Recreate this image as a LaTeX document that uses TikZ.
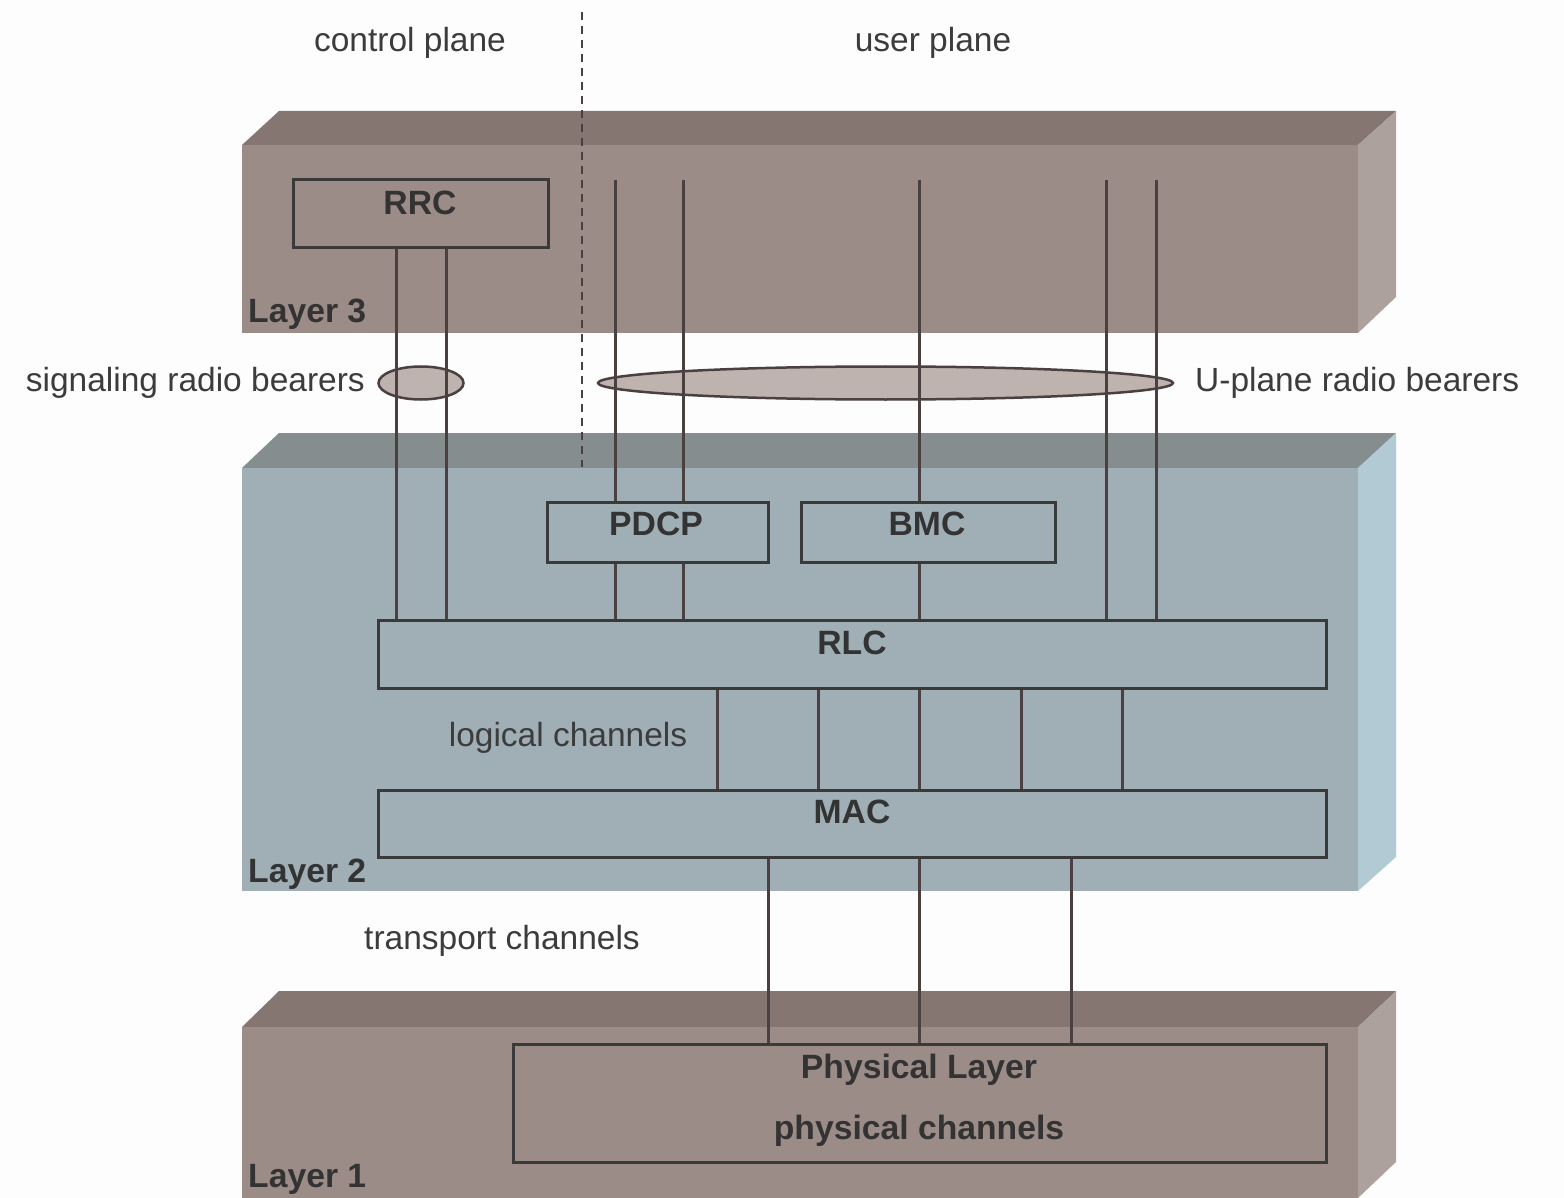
\documentclass[tikz,border=0pt]{standalone}
\usepackage{fontspec}
\setmainfont{Liberation Sans}
\usetikzlibrary{shapes.geometric}
\definecolor{bgc}{HTML}{FDFDFD}
\definecolor{brtop}{HTML}{857671}
\definecolor{brfront}{HTML}{9C8C88}
\definecolor{brside}{HTML}{ADA19D}
\definecolor{bltop}{HTML}{868D8F}
\definecolor{blfront}{HTML}{A0AFB5}
\definecolor{blside}{HTML}{B2CAD3}
\definecolor{ellc}{HTML}{BFB3B0}
\definecolor{linec}{HTML}{4A4040}
\definecolor{boxc}{HTML}{3A3A3A}
\definecolor{txtc}{HTML}{3C3C3C}
\definecolor{boldc}{HTML}{333333}
\tikzset{
  box/.style={draw=boxc, line width=3pt, inner sep=0pt, minimum width=#1},
  conn/.style={draw=linec, line width=3pt},
  lbl/.style={font=\fontsize{33.5}{40}\selectfont, text=txtc, inner sep=0pt},
  blbl/.style={font=\fontsize{33.7}{40}\selectfont\bfseries, text=boldc, inner sep=0pt},
  bearer/.style={ellipse, draw=linec, line width=2.5pt, fill=ellc, inner sep=0pt},
}
\begin{document}
\begin{tikzpicture}[x=1pt,y=-1pt]
\fill[bgc] (0,0) rectangle (1564,1198);
\useasboundingbox (0,0) rectangle (1564,1198);
% Layer 3 block
\fill[brtop] (242,145) -- (279,111) -- (1396,111) -- (1358,145) -- cycle;
\fill[brside] (1358,145) -- (1396,111) -- (1396,297) -- (1358,333) -- cycle;
\fill[brfront] (242,145) rectangle (1358,333);
% Layer 2 block
\fill[bltop] (242,468) -- (279,433) -- (1396,433) -- (1358,468) -- cycle;
\fill[blside] (1358,468) -- (1396,433) -- (1396,857) -- (1358,891) -- cycle;
\fill[blfront] (242,468) rectangle (1358,891);
% Layer 1 block
\fill[brtop] (242,1027) -- (279,991) -- (1396,991) -- (1358,1027) -- cycle;
\fill[brside] (1358,1027) -- (1396,991) -- (1396,1162) -- (1358,1198) -- cycle;
\fill[brfront] (242,1027) rectangle (1358,1198);

% dashed separator
\coordinate (dtop) at (582,12);
\coordinate (dbot) at (582,467);
\draw[linec, line width=1.8pt, dash pattern=on 8pt off 6pt] (dtop) -- (dbot);

% plane labels
\node[lbl, anchor=base] (cp) at (410,52) {control plane};
\node[lbl, anchor=base] (up) at (933,52) {user plane};

% boxes
\node[box=255pt, minimum height=68pt] (rrc) at (420.5,214) {};
\node[box=221pt, minimum height=60pt] (pdcp) at (657.5,532) {};
\node[box=254pt, minimum height=60pt] (bmc) at (928,532) {};
\node[box=948pt, minimum height=68pt] (rlc) at (852,654) {};
\node[box=948pt, minimum height=67pt] (mac) at (852,823.5) {};
\node[box=813pt, minimum height=118pt] (phy) at (919.5,1103) {};

\node[blbl, anchor=base] (trrc) at (420,215) {RRC};
\node[blbl, anchor=base] (tpdcp) at (656,535) {PDCP};
\node[blbl, anchor=base] (tbmc) at (927,535) {BMC};
\node[blbl, anchor=base] (trlc) at (852,654) {RLC};
\node[blbl, anchor=base] (tmac) at (852,823) {MAC};
\node[blbl, anchor=base] (tphy) at (919,1078) {Physical Layer};
\node[blbl, anchor=base] (tphc) at (919,1139) {physical channels};

% layer labels
\node[blbl, anchor=base west] (l3) at (248,323) {Layer 3};
\node[blbl, anchor=base west] (l2) at (248,882) {Layer 2};
\node[blbl, anchor=base west] (l1) at (248,1187) {Layer 1};

% bearers
\node[bearer, minimum width=85pt, minimum height=33pt] (srb) at (421,383) {};
\node[bearer, minimum width=575pt, minimum height=33pt] (urb) at (885.5,383) {};
\node[lbl, anchor=base east] (tsrb) at (365,391) {signaling radio bearers};
\node[lbl, anchor=base west] (turb) at (1195,391) {U-plane radio bearers};

% channel labels
\node[lbl, anchor=base] (tlog) at (568,746) {logical channels};
\node[lbl, anchor=base] (ttr) at (502,949) {transport channels};

% signaling connectors
\draw[conn] (rrc.south -| 396,0) -- (rlc.north -| 396,0);
\draw[conn] (rrc.south -| 446,0) -- (rlc.north -| 446,0);

% user plane connectors
\coordinate (utop) at (0,180);
\draw[conn] (utop -| 615,0) -- (pdcp.north -| 615,0);
\draw[conn] (utop -| 683,0) -- (pdcp.north -| 683,0);
\draw[conn] (utop -| 919,0) -- (bmc.north -| 919,0);
\draw[conn] (utop -| 1106,0) -- (rlc.north -| 1106,0);
\draw[conn] (utop -| 1156,0) -- (rlc.north -| 1156,0);
\draw[conn] (pdcp.south -| 615,0) -- (rlc.north -| 615,0);
\draw[conn] (pdcp.south -| 683,0) -- (rlc.north -| 683,0);
\draw[conn] (bmc.south -| 919,0) -- (rlc.north -| 919,0);

% logical channels
\foreach \xx in {717,818,919,1021,1122}{
  \draw[conn] (rlc.south -| \xx,0) -- (mac.north -| \xx,0);
}
% transport channels
\foreach \xx in {768,919,1071}{
  \draw[conn] (mac.south -| \xx,0) -- (phy.north -| \xx,0);
}
\end{tikzpicture}
\end{document}
